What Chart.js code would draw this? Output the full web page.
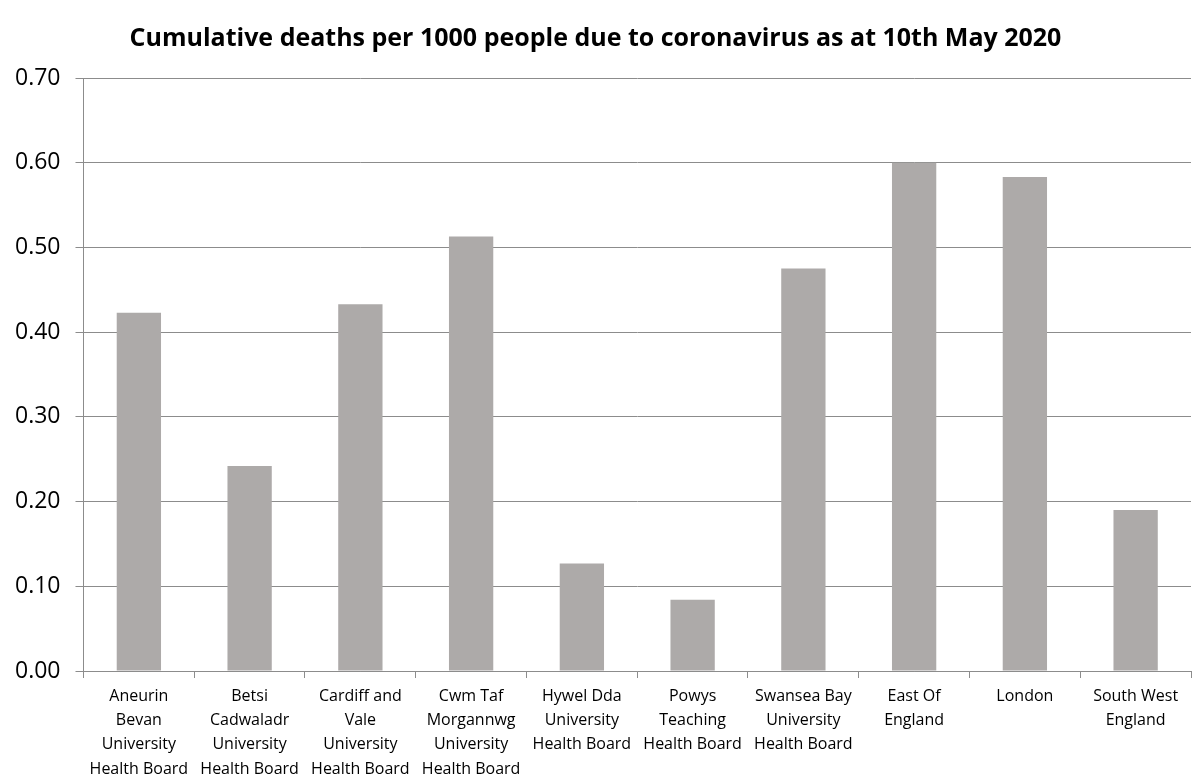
<!DOCTYPE html>
<html>
<head>
<meta charset="utf-8">
<script src="https://cdn.jsdelivr.net/npm/chart.js@4/dist/chart.umd.min.js"></script>
<style>
  html, body { margin: 0; padding: 0; background: #fff; }
  #wrap { width: 1195px; height: 776px; }
</style>
</head>
<body>
<div id="wrap"><canvas id="deaths-chart"></canvas></div>
<script>
const categories = [
    ["Aneurin", "Bevan", "University", "Health Board"],
    ["Betsi", "Cadwaladr", "University", "Health Board"],
    ["Cardiff and", "Vale", "University", "Health Board"],
    ["Cwm Taf", "Morgannwg", "University", "Health Board"],
    ["Hywel Dda", "University", "Health Board"],
    ["Powys", "Teaching", "Health Board"],
    ["Swansea Bay", "University", "Health Board"],
    ["East Of", "England"],
    ["London"],
    ["South West", "England"]
];
const deathsPer1000 = [0.423, 0.242, 0.433, 0.513, 0.127, 0.084, 0.475, 0.600, 0.583, 0.190];
const yTicks = [0, 0.1, 0.2, 0.3, 0.4, 0.5, 0.6, 0.7];

document.addEventListener("DOMContentLoaded", () => {
    Chart.defaults.font.family = "'Open Sans', 'Noto Sans', sans-serif";

    new Chart(document.getElementById('deaths-chart'), {
        type: 'bar',
        data: {
            labels: categories,
            datasets: [{
                label: 'Deaths per 1000',
                data: deathsPer1000,
                backgroundColor: '#adaaa9',
                barPercentage: 0.4,
                categoryPercentage: 1
            }]
        },
        options: {
            responsive: true,
            maintainAspectRatio: false,
            animation: false,
            layout: { padding: { top: 0, right: 4, bottom: 0, left: 0 } },
            plugins: {
                legend: { display: false },
                tooltip: { enabled: false },
                title: {
                    display: true,
                    text: 'Cumulative deaths per 1000 people due to coronavirus as at 10th May 2020',
                    color: '#000',
                    font: { size: 25, weight: 'bold' },
                    padding: { top: 24, bottom: 24 }
                }
            },
            scales: {
                x: {
                    afterFit: axis => { axis.height = 105; },
                    grid: { offset: true, drawOnChartArea: false, tickLength: 7, color: '#8c8c8c' },
                    border: { color: '#8c8c8c' },
                    ticks: {
                        color: '#000',
                        maxRotation: 0,
                        autoSkip: false,
                        padding: 6,
                        font: { size: 16, lineHeight: 1.52 }
                    }
                },
                y: {
                    min: 0,
                    max: 0.7,
                    afterBuildTicks: axis => { axis.ticks = yTicks.map(v => ({ value: v })); },
                    grid: { color: '#8c8c8c', tickLength: 8 },
                    border: { color: '#8c8c8c' },
                    ticks: {
                        color: '#000',
                        padding: 15,
                        font: { size: 23 },
                        callback: v => v.toFixed(2)
                    }
                }
            }
        }
    });
});
</script>
</body>
</html>
